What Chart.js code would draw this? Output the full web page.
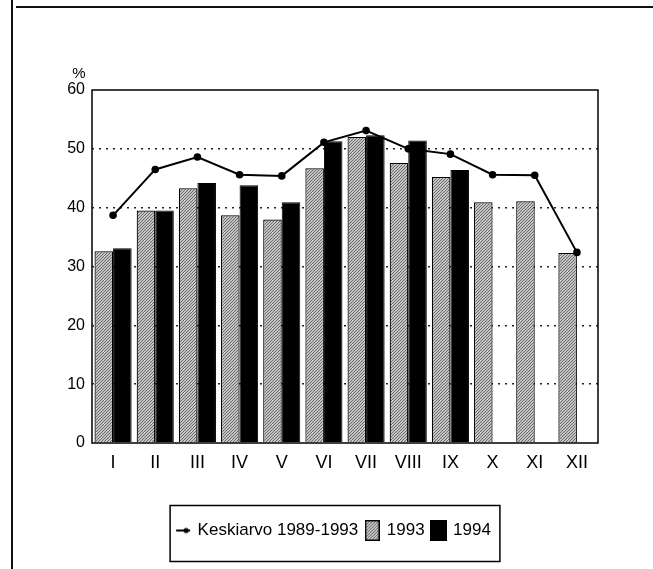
<!DOCTYPE html>
<html>
<head>
<meta charset="utf-8">
<script src="https://cdn.jsdelivr.net/npm/chart.js@4.4.1/dist/chart.umd.min.js"></script>
<style>
  html, body { margin: 0; padding: 0; background: #fff; }
  #wrap { position: relative; width: 653px; height: 569px; }
</style>
</head>
<body>
<div id="wrap"><canvas id="chart" width="653" height="569"></canvas></div>
<script>
// Data
const months = ['I', 'II', 'III', 'IV', 'V', 'VI', 'VII', 'VIII', 'IX', 'X', 'XI', 'XII'];
const avg8993 = [38.7, 46.5, 48.6, 45.6, 45.4, 51.1, 53.1, 50.0, 49.1, 45.6, 45.5, 32.4];
const y1993 = [32.6, 39.5, 43.3, 38.7, 38.0, 46.7, 52.0, 47.6, 45.2, 40.9, 41.1, 32.3];
const y1994 = [33.1, 39.5, 44.2, 43.8, 40.9, 51.3, 52.3, 51.4, 46.4, null, null, null];
const yTicks = [0, 10, 20, 30, 40, 50, 60];
const legendNames = ['Keskiarvo 1989-1993', '1993', '1994'];

const FONT = '"Liberation Sans", Arial, sans-serif';
const LEGEND_PAD = 8;

// hatched grey fill for the 1993 bars
function makeHatch() {
    const c = document.createElement('canvas');
    c.width = 3; c.height = 3;
    const g = c.getContext('2d');
    g.fillStyle = '#c4c4c4';
    g.fillRect(0, 0, 3, 3);
    g.fillStyle = '#6a6a6a';
    g.fillRect(0, 2, 1, 1);
    g.fillRect(1, 1, 1, 1);
    g.fillRect(2, 0, 1, 1);
    return c;
}
const hatchCanvas = makeHatch();
const hatch = document.getElementById('chart').getContext('2d').createPattern(hatchCanvas, 'repeat');

// legend icons
function lineIcon() {
    const c = document.createElement('canvas');
    c.width = 16; c.height = 10;
    const g = c.getContext('2d');
    g.strokeStyle = '#000'; g.lineWidth = 2;
    g.beginPath(); g.moveTo(1, 5); g.lineTo(15, 5); g.stroke();
    g.fillStyle = '#000';
    g.beginPath(); g.arc(11, 5, 2.6, 0, Math.PI * 2); g.fill();
    return c;
}
function boxIcon(fill, w) {
    const c = document.createElement('canvas');
    c.width = w; c.height = 21;
    const g = c.getContext('2d');
    g.fillStyle = fill === 'hatch' ? g.createPattern(hatchCanvas, 'repeat') : fill;
    g.fillRect(0, 0, w, 21);
    g.strokeStyle = '#000'; g.lineWidth = 1.5;
    g.strokeRect(0.75, 0.75, w - 1.5, 19.5);
    return c;
}
const icons = [lineIcon(), boxIcon('hatch', 15), boxIcon('#000', 17)];

// frames, legend box and % label
const extras = {
    id: 'extras',
    afterLayout(chart) {
        // legend sits a bit right of the canvas centre
        const lg = chart.legend;
        lg.left += 15; lg.right += 15;
    },
    beforeDraw(chart) {
        const ctx = chart.ctx;
        ctx.save();
        ctx.strokeStyle = '#111';
        ctx.lineWidth = 2;
        ctx.beginPath();
        ctx.moveTo(12, 0); ctx.lineTo(12, 569);
        ctx.moveTo(16, 7); ctx.lineTo(653, 7);
        ctx.stroke();
        ctx.restore();
    },
    afterDraw(chart) {
        const ctx = chart.ctx;
        const a = chart.chartArea;
        ctx.save();
        ctx.strokeStyle = '#000';
        ctx.lineWidth = 1.5;
        ctx.strokeRect(a.left, a.top, a.right - a.left, a.bottom - a.top);
        ctx.fillStyle = '#000';
        ctx.font = '15px ' + FONT;
        ctx.textAlign = 'center';
        ctx.textBaseline = 'middle';
        ctx.fillText('%', 79, 74);

        // box round the legend
        const lg = chart.legend;
        const lw = lg.lineWidths ? lg.lineWidths[0] : 0;
        const start = (lg.left + LEGEND_PAD + lg.right - lw) / 2;
        const x1 = start - 7;
        const x2 = start + lw - LEGEND_PAD + 9;
        const cy = lg.top + LEGEND_PAD + 8.5;
        ctx.lineWidth = 1.5;
        ctx.strokeRect(x1, cy - 25, x2 - x1, 56);
        ctx.restore();
    }
};

new Chart(document.getElementById('chart'), {
    type: 'bar',
    data: {
        labels: months,
        datasets: [{
            type: 'line',
            label: legendNames[0],
            data: avg8993,
            borderColor: '#000',
            backgroundColor: '#000',
            borderWidth: 2,
            pointRadius: 2.8,
            pointBackgroundColor: '#000',
            tension: 0,
            order: 0
        }, {
            label: legendNames[1],
            data: y1993,
            backgroundColor: hatch,
            borderColor: '#000',
            borderWidth: 1.2,
            order: 1
        }, {
            label: legendNames[2],
            data: y1994,
            backgroundColor: '#000',
            borderColor: '#000',
            borderWidth: 1,
            order: 1
        }]
    },
    options: {
        responsive: false,
        animation: false,
        layout: { padding: { left: 40, right: 55, top: 90, bottom: 20 } },
        datasets: {
            bar: { categoryPercentage: 0.88, barPercentage: 1.0 }
        },
        scales: {
            x: {
                grid: { display: false },
                border: { display: false },
                ticks: { color: '#000', font: { family: FONT, size: 18 }, padding: 1, maxRotation: 0 },
                afterFit(axis) { axis.height = 71; }
            },
            y: {
                min: 0, max: 60,
                afterBuildTicks(axis) { axis.ticks = yTicks.map(v => ({ value: v })); },
                grid: {
                    color: ctx => (ctx.tick && (ctx.tick.value === 0 || ctx.tick.value === 60)) ? 'rgba(0,0,0,0)' : '#222',
                    lineWidth: 1.6,
                    drawTicks: false
                },
                border: { display: false, dash: [2, 5] },
                ticks: { color: '#000', font: { family: FONT, size: 16 }, padding: 7 },
                afterFit(axis) { axis.width = 52; }
            }
        },
        plugins: {
            legend: {
                position: 'bottom',
                labels: {
                    color: '#000',
                    font: { family: FONT, size: 17 },
                    usePointStyle: true,
                    pointStyleWidth: 12,
                    padding: LEGEND_PAD,
                    generateLabels(chart) {
                        return legendNames.map((n, i) => ({
                            text: n,
                            pointStyle: icons[i],
                            fillStyle: '#000',
                            strokeStyle: '#000',
                            lineWidth: 0,
                            datasetIndex: i,
                            hidden: false
                        }));
                    }
                }
            },
            tooltip: { enabled: false }
        }
    },
    plugins: [extras]
});
</script>
</body>
</html>
